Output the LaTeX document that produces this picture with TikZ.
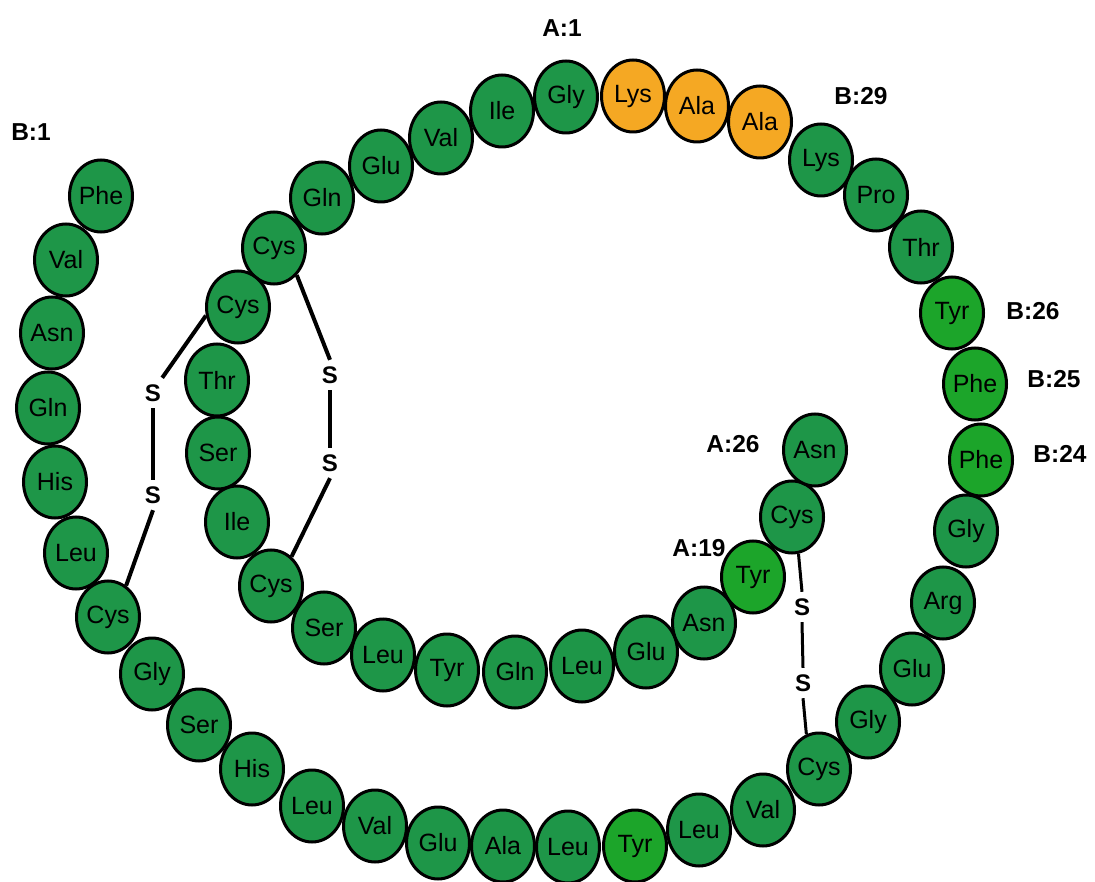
\documentclass[tikz,border=0pt]{standalone}
\usepackage{fontspec}
\setmainfont{Liberation Sans}
\usetikzlibrary{shapes.geometric}

\definecolor{resgreen}{RGB}{30,150,72}
\definecolor{brightgreen}{RGB}{28,165,42}
\definecolor{resorange}{RGB}{245,168,35}

\tikzset{
  residue/.style={ellipse, draw=black, line width=3pt, fill=resgreen,
    minimum width=63pt, minimum height=72pt, inner sep=0pt,
    font=\fontsize{25}{25}\selectfont},
  bright/.style={residue, fill=brightgreen},
  linker/.style={residue, fill=resorange},
  sulfur/.style={inner sep=0pt, minimum width=18pt, minimum height=30pt,
    font=\fontsize{24}{24}\selectfont\bfseries},
  poslabel/.style={inner sep=0pt, font=\fontsize{24.5}{24.5}\selectfont\bfseries},
  bond/.style={line width=4pt, line cap=butt}
}

\begin{document}
\begin{tikzpicture}[x=1pt, y=-1pt]
\useasboundingbox (0,0) rectangle (1095,882);

% B chain
\node[residue] (b1)  at (101,196) {Phe};
\node[residue] (b2)  at (66,260)  {Val};
\node[residue] (b3)  at (52,333)  {Asn};
\node[residue] (b4)  at (48,408)  {Gln};
\node[residue] (b5)  at (55,482)  {His};
\node[residue] (b6)  at (76,553)  {Leu};
\node[residue] (b7)  at (108,617) {Cys};
\node[residue] (b8)  at (152,674) {Gly};
\node[residue] (b9)  at (199,725) {Ser};
\node[residue] (b10) at (252,769) {His};
\node[residue] (b11) at (312,806) {Leu};
\node[residue] (b12) at (375,826) {Val};
\node[residue] (b13) at (438,843) {Glu};
\node[residue] (b14) at (503,846) {Ala};
\node[residue] (b15) at (568,847) {Leu};
\node[bright]  (b16) at (635,846) {Tyr};
\node[residue] (b17) at (699,830) {Leu};
\node[residue] (b18) at (763,810) {Val};
\node[residue] (b19) at (819,769) {Cys};
\node[residue] (b20) at (868,722) {Gly};
\node[residue] (b21) at (912,669) {Glu};
\node[residue] (b22) at (943,603) {Arg};
\node[residue] (b23) at (966,531) {Gly};
\node[bright]  (b24) at (981,460) {Phe};
\node[bright]  (b25) at (975,384) {Phe};
\node[bright]  (b26) at (952,313) {Tyr};
\node[residue] (b27) at (921,247) {Thr};
\node[residue] (b28) at (876,195) {Pro};
\node[residue] (b29) at (821,160) {Lys};

% connecting segment
\node[linker]  (b30) at (760,122) {Ala};
\node[linker]  (l1)  at (697,106) {Ala};
\node[linker]  (l2)  at (633,96)  {Lys};

% A chain
\node[residue] (a1)  at (566,97)  {Gly};
\node[residue] (a2)  at (502,111) {Ile};
\node[residue] (a3)  at (441,138) {Val};
\node[residue] (a4)  at (381,166) {Glu};
\node[residue] (a5)  at (322,198) {Gln};
\node[residue] (a6)  at (274,248) {Cys};
\node[residue] (a7)  at (238,307) {Cys};
\node[residue] (a8)  at (217,380) {Thr};
\node[residue] (a9)  at (218,453) {Ser};
\node[residue] (a10) at (237,522) {Ile};
\node[residue] (a11) at (271,586) {Cys};
\node[residue] (a12) at (324,628) {Ser};
\node[residue] (a13) at (383,655) {Leu};
\node[residue] (a14) at (447,670) {Tyr};
\node[residue] (a15) at (515,672) {Gln};
\node[residue] (a16) at (582,666) {Leu};
\node[residue] (a17) at (646,652) {Glu};
\node[residue] (a18) at (704,623) {Asn};
\node[bright]  (a19) at (753,577) {Tyr};
\node[residue] (a20) at (792,517) {Cys};
\node[residue] (a21) at (815,450) {Asn};

% disulfide bridges
\node[sulfur] (s1a) at (153,393) {S};
\node[sulfur] (s1b) at (153,495) {S};
\node[sulfur] (s2a) at (330,375) {S};
\node[sulfur] (s2b) at (330,463) {S};
\node[sulfur] (s3a) at (802,607) {S};
\node[sulfur] (s3b) at (803,683) {S};

\draw[bond] (a7.195) -- (s1a.north east);
\draw[bond] (s1a.south) -- (s1b.north);
\draw[bond] (s1b.south) -- (b7.60);

\draw[bond] (a6.-50) -- (s2a.north);
\draw[bond] (s2a.south) -- (s2b.north);
\draw[bond] (s2b.south) -- (a11.55);

\draw[bond, line width=3pt] (a20.-80) -- (s3a.north);
\draw[bond, line width=3pt] (s3a.south) -- (s3b.north);
\draw[bond, line width=3pt] (s3b.south) -- (b19.110);

% position labels
\node[poslabel] (lB1)  at (31,132)   {B:1};
\node[poslabel] (lA1)  at (562,28)   {A:1};
\node[poslabel] (lB29) at (861,96)   {B:29};
\node[poslabel] (lB26) at (1033,311) {B:26};
\node[poslabel] (lB25) at (1054,379) {B:25};
\node[poslabel] (lB24) at (1060,454) {B:24};
\node[poslabel] (lA26) at (733,444)  {A:26};
\node[poslabel] (lA19) at (699,548)  {A:19};
\end{tikzpicture}
\end{document}
